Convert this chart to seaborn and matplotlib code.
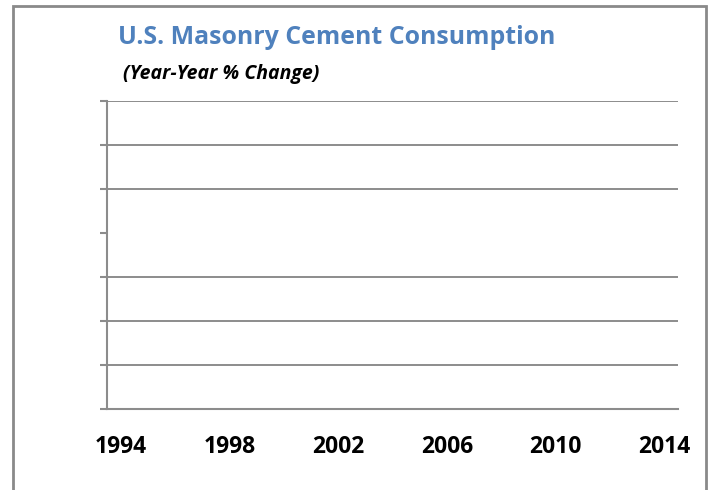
import numpy as np
import pandas as pd
import seaborn as sns
import matplotlib.pyplot as plt
from matplotlib.patches import Rectangle

# year-year % change; the source chart shows no series values
years = [1994, 1995, 1996, 1997, 1998, 1999, 2000, 2001, 2002, 2003, 2004,
         2005, 2006, 2007, 2008, 2009, 2010, 2011, 2012, 2013, 2014]
pct_change = [np.nan] * len(years)
label_years = [1994, 1998, 2002, 2006, 2010, 2014]
y_ticks = [-40, -30, -20, -10, 0, 10, 20, 30]

df = pd.DataFrame({'year': years, 'pct': pct_change})

sns.set_style('white')
plt.rcParams['font.family'] = ['Open Sans', 'DejaVu Sans']

grid_gray = '#8c8c8c'

fig = plt.figure(figsize=(7.12, 4.9), dpi=100)
ax = fig.add_axes([107 / 712, 1 - 409 / 490, (678 - 107) / 712, (409 - 101) / 490])

sns.lineplot(data=df, x='year', y='pct', ax=ax, color='#4f81bd')

ax.set_xlim(1993.5, 2014.5)
ax.set_ylim(-40, 30)
ax.set_xticks(label_years)
ax.set_xticklabels([str(y) for y in label_years], fontsize=16.5, fontweight='bold', color='black')
ax.set_yticks(y_ticks)
ax.set_yticklabels([])
ax.set_xlabel('')
ax.set_ylabel('')
ax.tick_params(axis='x', length=0, pad=19)
ax.tick_params(axis='y', length=5, width=1.5, color=grid_gray, direction='out', left=True)

ax.yaxis.grid(True, color=grid_gray, linewidth=1.4)
ax.xaxis.grid(False)
for i, gl in enumerate(ax.yaxis.get_gridlines()):
    if y_ticks[i] == 0:
        gl.set_visible(False)

for side in ['top', 'right']:
    ax.spines[side].set_visible(False)
for side in ['left', 'bottom']:
    ax.spines[side].set_color(grid_gray)
    ax.spines[side].set_linewidth(1.5)

fig.text(118 / 712, 1 - 37 / 490, 'U.S. Masonry Cement Consumption', fontsize=17.9,
         fontweight='bold', color='#4f81bd', va='center', ha='left')
fig.text(123 / 712, 1 - 74 / 490, '(Year-Year % Change)', fontsize=14,
         fontweight='bold', fontstyle='italic', color='black', va='center', ha='left')

fig.patches.append(Rectangle((12.5 / 712, -0.05), (706 - 12.5) / 712, 1.05 - 6 / 490,
                             transform=fig.transFigure, fill=False,
                             edgecolor='#8a8a8a', linewidth=2, figure=fig))

plt.savefig('out.png', dpi=100)
